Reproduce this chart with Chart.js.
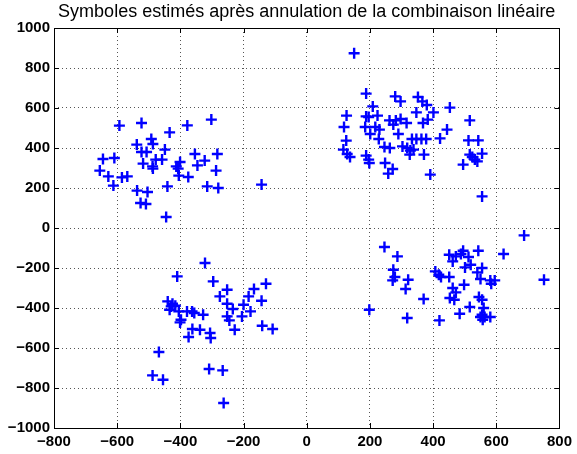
<!DOCTYPE html>
<html>
<head>
<meta charset="utf-8">
<script src="https://cdn.jsdelivr.net/npm/chart.js@4"></script>
<style>
  html, body { margin: 0; padding: 0; background: #fff; }
  canvas { display: block; }
</style>
</head>
<body>
<canvas id="symbols" width="577" height="454"></canvas>
<script>
const TITLE = 'Symboles estimés après annulation de la combinaison linéaire';

const xTickValues = [-800, -600, -400, -200, 0, 200, 400, 600, 800];
const yTickValues = [-1000, -800, -600, -400, -200, 0, 200, 400, 600, 800, 1000];

// estimated symbols, grouped by constellation quadrant
const nwX = [-593, -523, -302, -378, -434, -492, -538, -487, -449, -523, -507, -354, -283, -645, -609, -478, -458, -323, -518, -401, -488, -487, -413, -407, -346, -655, -287, -628, -585, -568, -405, -375, -612, -441, -315, -280, -143, -537, -504, -526, -509, -445];
const nwY = [512, 525, 542, 513, 478, 445, 417, 420, 392, 380, 380, 370, 370, 345, 350, 342, 342, 337, 322, 330, 308, 297, 308, 297, 313, 287, 287, 258, 253, 258, 262, 255, 212, 208, 208, 200, 217, 187, 180, 125, 120, 55];

const neX = [150, 188, 280, 297, 352, 366, 380, 209, 453, 347, 401, 126, 188, 196, 224, 262, 282, 297, 316, 274, 368, 383, 516, 118, 185, 217, 230, 444, 290, 201, 333, 347, 363, 378, 422, 228, 125, 512, 543, 246, 263, 303, 318, 328, 338, 116, 128, 137, 326, 371, 188, 196, 198, 516, 524, 532, 540, 555, 248, 272, 258, 495, 391, 555];
const neY = [874, 672, 658, 633, 655, 633, 615, 608, 602, 578, 578, 562, 558, 555, 562, 538, 538, 545, 525, 517, 525, 542, 538, 505, 505, 505, 492, 492, 470, 470, 445, 445, 445, 445, 448, 445, 437, 438, 438, 405, 400, 408, 400, 387, 392, 392, 370, 355, 367, 367, 362, 342, 325, 367, 355, 342, 333, 372, 325, 295, 272, 317, 267, 158];

const swX = [-322, -410, -296, -129, -252, -167, -275, -184, -143, -440, -425, -429, -416, -434, -405, -379, -363, -356, -328, -252, -234, -200, -178, -205, -252, -245, -398, -401, -141, -108, -228, -362, -338, -306, -304, -374, -468, -309, -266, -488, -455, -263];
const swY = [-175, -242, -267, -279, -309, -305, -342, -342, -364, -367, -379, -392, -389, -409, -417, -417, -417, -425, -434, -379, -405, -384, -417, -442, -442, -462, -459, -472, -489, -505, -509, -505, -509, -525, -550, -545, -620, -705, -712, -737, -759, -875];

const seX = [688, 246, 287, 543, 623, 451, 472, 495, 488, 512, 462, 519, 501, 555, 540, 274, 279, 272, 321, 313, 407, 418, 425, 451, 550, 581, 595, 584, 751, 498, 462, 472, 453, 467, 370, 545, 555, 516, 560, 484, 555, 550, 563, 557, 581, 198, 318, 420];
const seY = [-37, -95, -142, -114, -130, -134, -142, -114, -130, -145, -167, -184, -197, -200, -222, -209, -245, -262, -259, -305, -217, -234, -245, -245, -255, -262, -262, -279, -259, -284, -300, -322, -350, -359, -355, -345, -359, -395, -400, -429, -434, -445, -445, -459, -445, -409, -450, -462];

function toPoints(xs, ys) {
    return xs.map((x, i) => ({ x: x, y: ys[i] }));
}

const points = [].concat(
    toPoints(nwX, nwY),
    toPoints(neX, neY),
    toPoints(swX, swY),
    toPoints(seX, seY)
);

const FONT = "'Liberation Sans', Arial, Helvetica, sans-serif";
const minusSign = v => String(v).replace('-', '\u2212');

/**
 * Box around the plot area with short inward tick marks on all four sides
 */
const framePlugin = {
    id: 'frame',
    afterDraw(chart) {
        const { ctx, chartArea: a, scales } = chart;
        const len = 5;
        ctx.save();
        ctx.setLineDash([]);
        ctx.strokeStyle = '#000';
        ctx.lineWidth = 1;
        ctx.beginPath();
        xTickValues.forEach(v => {
            const px = Math.round(scales.x.getPixelForValue(v)) + 0.5;
            ctx.moveTo(px, a.bottom);
            ctx.lineTo(px, a.bottom - len);
            ctx.moveTo(px, a.top);
            ctx.lineTo(px, a.top + len);
        });
        yTickValues.forEach(v => {
            const py = Math.round(scales.y.getPixelForValue(v)) + 0.5;
            ctx.moveTo(a.left, py);
            ctx.lineTo(a.left + len, py);
            ctx.moveTo(a.right, py);
            ctx.lineTo(a.right - len, py);
        });
        ctx.stroke();
        ctx.strokeRect(Math.round(a.left) + 0.5, Math.round(a.top) + 0.5,
            Math.round(a.right - a.left), Math.round(a.bottom - a.top));
        ctx.restore();
    }
};

const gridOptions = {
    color: '#555',
    lineWidth: 1,
    drawTicks: false
};

new Chart(document.getElementById('symbols'), {
    type: 'scatter',
    data: {
        datasets: [{
            label: 'symboles',
            data: points,
            pointStyle: 'cross',
            pointRadius: 5.5,
            pointHoverRadius: 5.5,
            borderWidth: 2.4,
            borderColor: '#0000ff',
            backgroundColor: '#0000ff'
        }]
    },
    options: {
        responsive: false,
        animation: false,
        events: [],
        layout: { padding: { left: 0, right: 12, top: 0, bottom: 0 } },
        plugins: {
            legend: { display: false },
            tooltip: { enabled: false },
            title: {
                display: true,
                text: TITLE,
                fullSize: false,
                color: '#000',
                font: { family: FONT, size: 18, weight: 'normal', lineHeight: 1.2 },
                padding: { top: 1.5, bottom: 4.9 }
            }
        },
        scales: {
            x: {
                type: 'linear',
                min: -800,
                max: 800,
                afterBuildTicks: s => { s.ticks = xTickValues.map(v => ({ value: v })); },
                afterFit: s => { s.height = 26; },
                grid: gridOptions,
                border: { display: false, dash: [1, 3] },
                ticks: {
                    color: '#000',
                    padding: 5,
                    maxRotation: 0,
                    font: { family: FONT, size: 15, weight: 'bold' },
                    callback: minusSign
                }
            },
            y: {
                type: 'linear',
                min: -1000,
                max: 1000,
                afterBuildTicks: s => { s.ticks = yTickValues.map(v => ({ value: v })); },
                afterFit: s => { s.width = 54; },
                grid: gridOptions,
                border: { display: false, dash: [1, 3] },
                ticks: {
                    color: '#000',
                    padding: 4,
                    font: { family: FONT, size: 15, weight: 'bold' },
                    callback: minusSign
                }
            }
        }
    },
    plugins: [framePlugin]
});
</script>
</body>
</html>
